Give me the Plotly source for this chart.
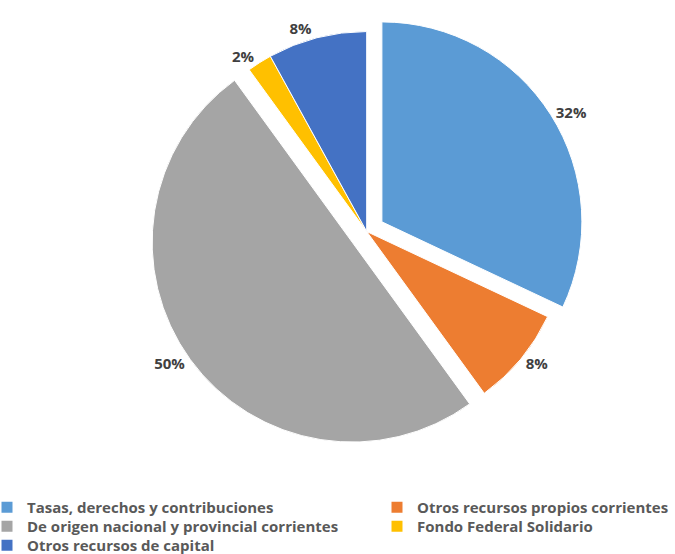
import plotly.graph_objects as go

# Composition of resources (share of total, %)
categories = [
    "Tasas, derechos y contribuciones",
    "Otros recursos propios corrientes",
    "De origen nacional y provincial corrientes",
    "Fondo Federal Solidario",
    "Otros recursos de capital",
]
shares = [32, 8, 50, 2, 8]
slice_colors = ["#5B9BD5", "#ED7D31", "#A5A5A5", "#FFC000", "#4472C4"]
pulls = [0.09, 0, 0.09, 0, 0]

W, H = 675, 554
FONT = "Open Sans"

# legend grid: entries fill two columns row by row
LEGEND_COLS_PX = [-13, 377]
LEGEND_ROW_TOP_PX = [491, 510, 529]

fig = go.Figure()

fig.add_trace(go.Pie(
    labels=categories,
    values=shares,
    sort=False,
    direction="clockwise",
    rotation=0,
    pull=pulls,
    marker=dict(colors=slice_colors, line=dict(color="white", width=1)),
    textposition="outside",
    texttemplate="%{percent:.0%}",
    textfont=dict(family=FONT, size=15, color="#404040", weight="bold"),
    showlegend=False,
    hoverinfo="label+percent",
    domain=dict(x=[0.2203, 0.8662], y=[0.1886, 0.9756]),
))

legend_style = dict(
    orientation="v",
    yanchor="top",
    xanchor="left",
    bgcolor="rgba(0,0,0,0)",
    borderwidth=0,
    font=dict(family=FONT, size=15, color="#595959", weight="bold"),
    itemclick=False,
    itemdoubleclick=False,
)

legends = {}
for i, (name, col) in enumerate(zip(categories, slice_colors)):
    key = "legend" if i == 0 else f"legend{i + 1}"
    row, column = divmod(i, 2)
    fig.add_trace(go.Scatter(
        x=[None], y=[None], mode="markers", name=name,
        marker=dict(symbol="square", size=11, color=col),
        legend=key, hoverinfo="skip",
    ))
    legends[key] = dict(
        x=LEGEND_COLS_PX[column] / W,
        y=1 - LEGEND_ROW_TOP_PX[row] / H,
        **legend_style,
    )

fig.update_layout(
    width=W,
    height=H,
    margin=dict(l=0, r=0, t=0, b=0, autoexpand=False),
    paper_bgcolor="white",
    plot_bgcolor="white",
    xaxis=dict(visible=False),
    yaxis=dict(visible=False),
    **legends,
)

fig.write_html("out.html")
